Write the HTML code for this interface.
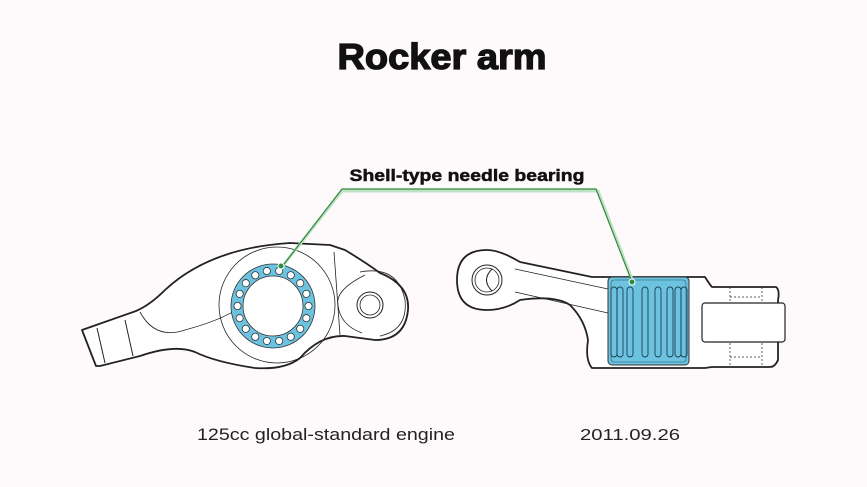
<!DOCTYPE html>
<html><head><meta charset="utf-8"><style>
html,body{margin:0;padding:0;background:#fefafb;}
svg{display:block;}
text{font-family:"Liberation Sans",Arial,sans-serif;}
</style></head><body>
<svg width="867" height="487" viewBox="0 0 867 487" xmlns="http://www.w3.org/2000/svg">
<rect width="867" height="487" fill="#fefafb"/>
<text x="442" y="69" text-anchor="middle" font-size="36" font-weight="bold" fill="#111" stroke="#111" stroke-width="1.3" textLength="209" lengthAdjust="spacingAndGlyphs">Rocker arm</text>
<text x="467" y="181" text-anchor="middle" font-size="17" font-weight="bold" fill="#111" stroke="#111" stroke-width="0.5" textLength="235" lengthAdjust="spacingAndGlyphs">Shell-type needle bearing</text>
<text x="326" y="440" text-anchor="middle" font-size="17" fill="#222" textLength="258" lengthAdjust="spacingAndGlyphs">125cc global-standard engine</text>
<text x="630" y="440" text-anchor="middle" font-size="16" fill="#222" textLength="100" lengthAdjust="spacingAndGlyphs">2011.09.26</text>

<!-- left rocker arm -->
<g fill="none" stroke="#222" stroke-linejoin="round">
<path d="M82,330 L136,311 Q150,305 165,290 Q210,248 290,243 L330,245 L345,250 Q365,262 380,273 Q410,285 408,310 Q405,340 375,340 L345,336 Q320,335 300,358 Q285,370 255,368 Q215,362 195,352 Q175,344 140,356 L100,366 L96,366 Z" fill="#fff" stroke-width="1.8"/>
<path d="M97,328 L105,363 M125,320 L133,356" stroke-width="1"/>
<path d="M140,312 Q155,340 185,330 Q230,318 250,300" stroke-width="0.8"/>
<circle cx="277" cy="305" r="58" stroke-width="0.8"/>
<path d="M334,252 L340,335" stroke-width="0.8"/>
<path d="M365,275 Q335,290 338,305 Q340,325 362,333" stroke-width="0.8"/>
<path d="M360,272 Q398,265 405,300 Q408,330 380,336" stroke-width="0.8"/>
<circle cx="370" cy="305" r="13" stroke-width="1"/>
<circle cx="370" cy="305" r="10" stroke-width="0.8"/>
</g>
<circle cx="273" cy="306" r="42" fill="#6cc3df" stroke="#333" stroke-width="0.8"/>
<circle cx="273" cy="306" r="30" fill="#fff" stroke="#333" stroke-width="0.8"/>
<g fill="#fff" stroke="#333" stroke-width="0.8" id="balls"></g>

<!-- right rocker arm -->
<g fill="none" stroke="#222" stroke-linejoin="round">
<path d="M487,250 Q500,250 520,262 L592,277 L705,277 Q710,285 712,287 L776,287 Q780,290 778,300 L778,360 Q775,367 770,367 L712,367 L705,368 L592,368 Q585,360 588,340 Q585,320 570,305 Q555,295 520,300 Q505,310 487,310 Q457,310 457,280 Q457,250 487,250 Z" fill="#fff" stroke-width="1.8"/>
<path d="M515,269 L608,289 M515,292 L608,313" stroke-width="0.8"/>
<circle cx="487" cy="280" r="15" stroke-width="1"/>
<circle cx="487" cy="280" r="12" stroke-width="0.8"/>
<path d="M492,269 Q481,280 492,291" stroke-width="1"/>
<path d="M730,287 L730,367 M762,287 L762,367 M730,297 L762,297 M730,357 L762,357" stroke-dasharray="2,2" stroke-width="0.7"/>
<rect x="702" y="303" width="83" height="39" rx="3" fill="#fff" stroke-width="1.2"/>
</g>
<rect x="608" y="277" width="81" height="88" rx="4" fill="#6cc3df" stroke="#333" stroke-width="1"/>
<rect x="611" y="280" width="75" height="82" rx="3" fill="none" stroke="#2a5a70" stroke-width="0.6"/>
<g fill="none" stroke="#1e3f52" stroke-width="0.9" id="needles"></g>

<!-- leader -->
<g fill="none">
<polyline points="281,268 342,191 598,191 633,282" stroke="#bfe0c4" stroke-width="3"/>
<polyline points="281,268 342,189 596,189 632,282" stroke="#2e8b3e" stroke-width="1.2"/>
</g>
<circle cx="281" cy="266" r="3" fill="#2e8b3e" stroke="#fff" stroke-width="1"/>
<circle cx="632" cy="282" r="3" fill="#2e8b3e" stroke="#fff" stroke-width="1"/>

<script>
var g=document.getElementById('balls');
for(var i=0;i<18;i++){var a=i/18*2*Math.PI;var c=document.createElementNS('http://www.w3.org/2000/svg','circle');
c.setAttribute('cx',273+35.5*Math.cos(a));c.setAttribute('cy',306+35.5*Math.sin(a));c.setAttribute('r',3.6);g.appendChild(c);}
var n=document.getElementById('needles');
[614,620,630,645,658,670,678,684].forEach(function(x){var r=document.createElementNS('http://www.w3.org/2000/svg','rect');
r.setAttribute('x',x-3);r.setAttribute('y',287);r.setAttribute('width',6);r.setAttribute('height',70);r.setAttribute('rx',3);n.appendChild(r);});
</script>
</svg>
</body></html>
